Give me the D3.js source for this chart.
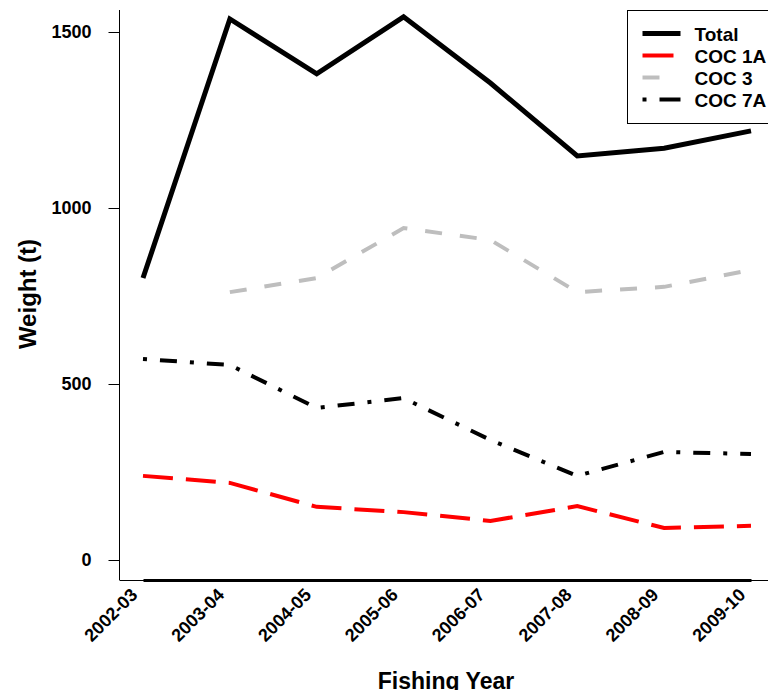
<!DOCTYPE html>
<html lang="en">
<head>
<meta charset="UTF-8">
<title>Weight by fishing year</title>
<script src="https://d3js.org/d3.v7.min.js"></script>
<style>
  body { margin: 0; background: #fff; }
  svg { display: block; font-family: "Liberation Sans", Arial, sans-serif; font-weight: bold; }
</style>
</head>
<body>
<div id="chart"></div>
<script>
// datos
const years = ['2002-03', '2003-04', '2004-05', '2005-06', '2006-07', '2007-08', '2008-09', '2009-10'];
const total = [801, 1537, 1381, 1543, 1355, 1148, 1170, 1219];
const coc1A = [239, 219, 151, 136, 111, 153, 91, 97];
const coc3 = [null, 761, 801, 943, 909, 761, 776, 824];
const coc7A = [571, 554, 432, 460, 341, 239, 307, 301];
const yTicks = [0, 500, 1000, 1500];

const series = [
  { name: 'Total', values: total, color: '#000', width: 5, dash: null, legDash: null },
  { name: 'COC 1A', values: coc1A, color: '#ff0000', width: 4, dash: '30,13', legDash: '31,10' },
  { name: 'COC 3', values: coc3, color: '#bebebe', width: 4, dash: '17,18', legDash: '17,30' },
  { name: 'COC 7A', values: coc7A, color: '#000', width: 4, dash: '4,13,17,13', legDash: '4,13,17,0' }
];

const W = 768, H = 690;
const FONT = '"Liberation Sans", Arial, sans-serif';
const svg = d3.select('#chart').append('svg').attr('width', W).attr('height', H);

const x = d3.scalePoint().domain(years).range([143, 751]);
const y = d3.scaleLinear().domain([0, 1500]).range([560, 32]);

// eje y
svg.append('line').attr('x1', 119.5).attr('x2', 119.5).attr('y1', 10).attr('y2', 580)
  .attr('stroke', '#000').attr('stroke-width', 1);
const yAxis = svg.append('g').attr('transform', 'translate(119.5,0)')
  .call(d3.axisLeft(y).tickValues(yTicks).tickSize(11).tickPadding(17).tickFormat(d3.format('d')));
yAxis.select('.domain').remove();
yAxis.selectAll('text').attr('font-size', 18).attr('font-family', FONT)
  .attr('font-weight', 'bold').attr('fill', '#000');

// eje x
svg.append('line').attr('x1', 119.5).attr('x2', W).attr('y1', 580.5).attr('y2', 580.5)
  .attr('stroke', '#000').attr('stroke-width', 1);
const xAxis = svg.append('g').attr('transform', 'translate(0,580)')
  .call(d3.axisBottom(x).tickSize(0).tickPadding(0));
xAxis.select('.domain').attr('stroke-width', 3);
xAxis.selectAll('text')
  .attr('font-size', 18).attr('font-family', FONT)
  .attr('font-weight', 'bold').attr('fill', '#000')
  .attr('text-anchor', 'end').attr('dy', null).attr('y', 0)
  .attr('transform', 'translate(-5,16) rotate(-45)');

// lineas
const line = d3.line()
  .defined(d => d.v != null)
  .x(d => x(d.year))
  .y(d => y(d.v));

series.forEach(s => {
  svg.append('path')
    .datum(years.map((yr, i) => ({ year: yr, v: s.values[i] })))
    .attr('d', line)
    .attr('fill', 'none')
    .attr('stroke', s.color)
    .attr('stroke-width', s.width)
    .attr('stroke-dasharray', s.dash);
});

// leyenda
const leg = svg.append('g').attr('transform', 'translate(627.5,10.5)');
leg.append('rect').attr('width', 160).attr('height', 113)
  .attr('fill', '#fff').attr('stroke', '#000').attr('stroke-width', 1);
series.forEach((s, i) => {
  const ly = 23 + i * 22;
  leg.append('line').attr('x1', 15).attr('x2', 53).attr('y1', ly).attr('y2', ly)
    .attr('stroke', s.color).attr('stroke-width', s.width)
    .attr('stroke-dasharray', s.legDash);
  leg.append('text').attr('x', 67).attr('y', ly + 7).attr('font-size', 19).text(s.name);
});

// titulos
svg.append('text').attr('x', 446).attr('y', 689).attr('text-anchor', 'middle')
  .attr('font-size', 23).text('Fishing Year');
svg.append('text').attr('transform', 'translate(36,294) rotate(-90)').attr('text-anchor', 'middle')
  .attr('font-size', 24).text('Weight (t)');
</script>
</body>
</html>
